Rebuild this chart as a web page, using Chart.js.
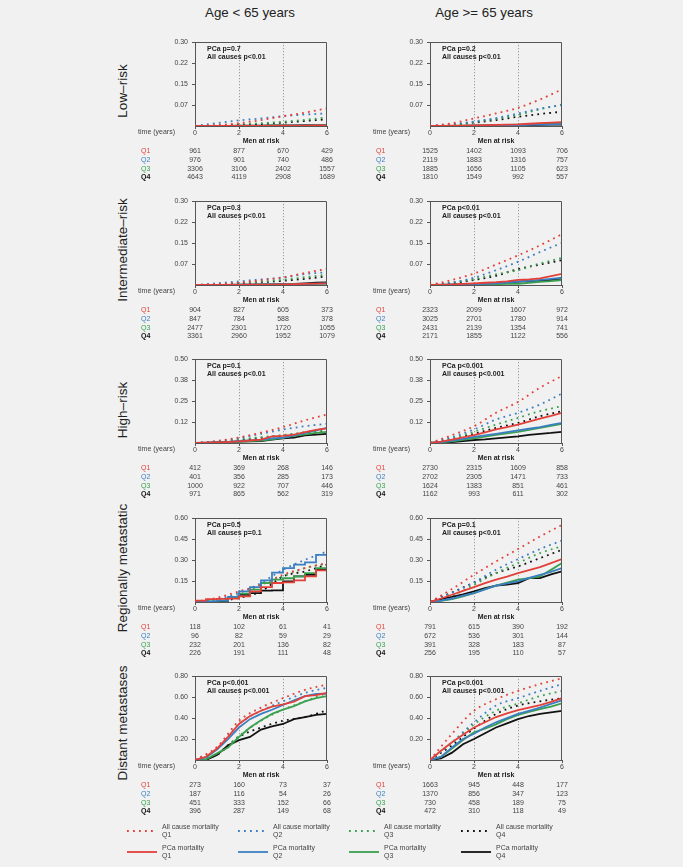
<!DOCTYPE html>
<html>
<head>
<meta charset="utf-8">
<script src="https://cdn.jsdelivr.net/npm/chart.js"></script>
<style>
body { margin: 0; background: #f0f1f0; font-family: "Liberation Sans", Arial, sans-serif; }
#page { position: relative; width: 683px; height: 867px; overflow: hidden; }
canvas { position: absolute; }
.title { position: absolute; top: 5px; font-size: 13.3px; color: #222; transform: translateX(-50%); white-space: nowrap; }
.rowlab { position: absolute; font-size: 13.5px; color: #222; white-space: nowrap; transform: translate(-50%, -50%) rotate(-90deg); }
.leg { position: absolute; font-size: 7px; color: #444; line-height: 8.6px; white-space: nowrap; }
svg { position: absolute; left: 0; top: 0; }
</style>
</head>
<body>
<div id="page"></div>
<script>
// time grids
const tAll = [0, 1, 2, 3, 4, 5, 6];
const tPca = [0, 0.5, 1, 1.5, 2, 2.5, 3, 3.5, 4, 4.5, 5, 5.5, 6];
const riskTimes = [0, 2, 4, 6];

const qNames = ['Q1', 'Q2', 'Q3', 'Q4'];
const qColors = ['#e4403a', '#3b7fc2', '#39a04f', '#111111'];

const colTitles = ['Age < 65 years', 'Age >= 65 years'];
const rowTitles = ['Low\u2013risk', 'Intermediate\u2013risk', 'High\u2013risk', 'Regionally metastatic', 'Distant metastases'];

const yTicks = [[0.075, 0.15, 0.225, 0.30], [0.075, 0.15, 0.225, 0.30], [0.125, 0.25, 0.375, 0.50], [0.15, 0.30, 0.45, 0.60], [0.20, 0.40, 0.60, 0.80]];
const yLabels = [['0.07', '0.15', '0.22', '0.30'], ['0.07', '0.15', '0.22', '0.30'], ['0.12', '0.25', '0.38', '0.50'], ['0.15', '0.30', '0.45', '0.60'], ['0.20', '0.40', '0.60', '0.80']];

// Low-risk, < 65
const lowYoungAll = [
  [0, 0.003, 0.010, 0.021, 0.035, 0.048, 0.063],
  [0, 0.010, 0.020, 0.027, 0.035, 0.041, 0.045],
  [0, 0.002, 0.006, 0.010, 0.015, 0.022, 0.031],
  [0, 0.001, 0.003, 0.007, 0.012, 0.018, 0.024]
];
const lowYoungPca = [
  [0, 0, 0, 0, 0, 0, 0, 0, 0.001, 0.001, 0.001, 0.002, 0.002],
  [0, 0, 0, 0, 0, 0, 0, 0, 0, 0.001, 0.001, 0.001, 0.001],
  [0, 0, 0, 0, 0, 0, 0, 0.001, 0.001, 0.001, 0.001, 0.002, 0.002],
  [0, 0, 0, 0, 0.001, 0.001, 0.001, 0.002, 0.002, 0.002, 0.003, 0.003, 0.003]
];
const lowYoungRisk = [[961, 877, 670, 429], [976, 901, 740, 486], [3306, 3106, 2402, 1557], [4643, 4119, 2908, 1689]];

// Low-risk, >= 65
const lowOldAll = [
  [0, 0.010, 0.027, 0.045, 0.065, 0.095, 0.131],
  [0, 0.006, 0.016, 0.028, 0.045, 0.062, 0.075],
  [0, 0.005, 0.014, 0.026, 0.040, 0.060, 0.077],
  [0, 0.004, 0.012, 0.021, 0.033, 0.043, 0.051]
];
const lowOldPca = [
  [0, 0, 0.001, 0.001, 0.002, 0.003, 0.004, 0.005, 0.006, 0.008, 0.010, 0.012, 0.014],
  [0, 0, 0, 0, 0.001, 0.001, 0.002, 0.002, 0.003, 0.004, 0.005, 0.006, 0.007],
  [0, 0, 0, 0.001, 0.001, 0.002, 0.003, 0.004, 0.005, 0.006, 0.008, 0.010, 0.011],
  [0, 0, 0, 0, 0.001, 0.001, 0.001, 0.002, 0.003, 0.003, 0.004, 0.005, 0.005]
];
const lowOldRisk = [[1525, 1402, 1093, 706], [2119, 1883, 1316, 757], [1885, 1656, 1105, 623], [1810, 1549, 992, 557]];

// Intermediate-risk, < 65
const intYoungAll = [
  [0, 0.003, 0.008, 0.017, 0.027, 0.043, 0.058],
  [0, 0.006, 0.013, 0.020, 0.027, 0.039, 0.046],
  [0, 0.002, 0.007, 0.012, 0.019, 0.028, 0.037],
  [0, 0.002, 0.006, 0.010, 0.015, 0.022, 0.031]
];
const intYoungPca = [
  [0, 0, 0, 0, 0, 0.001, 0.001, 0.001, 0.002, 0.003, 0.004, 0.005, 0.006],
  [0, 0, 0, 0, 0.001, 0.001, 0.001, 0.002, 0.002, 0.003, 0.004, 0.005, 0.006],
  [0, 0, 0, 0, 0, 0, 0.001, 0.001, 0.001, 0.002, 0.003, 0.004, 0.005],
  [0, 0, 0, 0, 0.001, 0.001, 0.002, 0.002, 0.003, 0.004, 0.006, 0.008, 0.009]
];
const intYoungRisk = [[904, 827, 605, 373], [847, 784, 588, 378], [2477, 2301, 1720, 1055], [3361, 2960, 1952, 1079]];

// Intermediate-risk, >= 65
const intOldAll = [
  [0, 0.018, 0.041, 0.073, 0.106, 0.142, 0.182],
  [0, 0.009, 0.026, 0.053, 0.083, 0.118, 0.151],
  [0, 0.008, 0.021, 0.038, 0.053, 0.077, 0.097],
  [0, 0.006, 0.018, 0.033, 0.057, 0.073, 0.089]
];
const intOldPca = [
  [0, 0.001, 0.002, 0.004, 0.006, 0.008, 0.010, 0.013, 0.018, 0.020, 0.024, 0.032, 0.040],
  [0, 0, 0.001, 0.002, 0.003, 0.004, 0.006, 0.009, 0.012, 0.015, 0.018, 0.022, 0.026],
  [0, 0, 0.001, 0.001, 0.002, 0.003, 0.003, 0.004, 0.004, 0.008, 0.011, 0.014, 0.018],
  [0, 0, 0.001, 0.002, 0.003, 0.004, 0.006, 0.008, 0.012, 0.014, 0.016, 0.018, 0.020]
];
const intOldRisk = [[2323, 2099, 1607, 972], [3025, 2701, 1780, 914], [2431, 2139, 1354, 741], [2171, 1855, 1122, 556]];

// High-risk, < 65
const highYoungAll = [
  [0, 0.012, 0.033, 0.062, 0.095, 0.135, 0.170],
  [0, 0.010, 0.030, 0.055, 0.080, 0.100, 0.115],
  [0, 0.006, 0.022, 0.035, 0.047, 0.065, 0.080],
  [0, 0.005, 0.016, 0.030, 0.045, 0.058, 0.067]
];
const highYoungPca = [
  [0, 0.002, 0.004, 0.006, 0.010, 0.015, 0.020, 0.040, 0.042, 0.050, 0.065, 0.078, 0.087],
  [0, 0.002, 0.004, 0.006, 0.012, 0.016, 0.020, 0.028, 0.032, 0.045, 0.060, 0.075, 0.090],
  [0, 0.001, 0.003, 0.005, 0.008, 0.012, 0.015, 0.022, 0.030, 0.042, 0.052, 0.060, 0.067],
  [0, 0.001, 0.003, 0.005, 0.008, 0.010, 0.012, 0.020, 0.028, 0.032, 0.045, 0.050, 0.055]
];
const highYoungRisk = [[412, 369, 268, 146], [401, 356, 285, 173], [1000, 922, 707, 446], [971, 865, 562, 319]];

// High-risk, >= 65
const highOldAll = [
  [0, 0.047, 0.100, 0.180, 0.245, 0.330, 0.400],
  [0, 0.035, 0.081, 0.140, 0.180, 0.230, 0.295],
  [0, 0.028, 0.067, 0.110, 0.150, 0.190, 0.220],
  [0, 0.022, 0.055, 0.090, 0.120, 0.160, 0.190]
];
const highOldPca = [
  [0, 0.008, 0.020, 0.033, 0.047, 0.064, 0.081, 0.095, 0.110, 0.128, 0.146, 0.162, 0.180],
  [0, 0.006, 0.014, 0.024, 0.036, 0.045, 0.055, 0.065, 0.075, 0.085, 0.095, 0.108, 0.120],
  [0, 0.004, 0.010, 0.018, 0.028, 0.038, 0.048, 0.058, 0.067, 0.078, 0.090, 0.102, 0.115],
  [0, 0.003, 0.006, 0.012, 0.018, 0.022, 0.028, 0.034, 0.040, 0.048, 0.055, 0.060, 0.067]
];
const highOldRisk = [[2730, 2315, 1609, 858], [2702, 2305, 1471, 733], [1624, 1383, 851, 461], [1162, 993, 611, 302]];

// Regionally metastatic, < 65
const regYoungAll = [
  [0, 0.030, 0.076, 0.124, 0.195, 0.243, 0.279],
  [0, 0.020, 0.064, 0.136, 0.231, 0.302, 0.362],
  [0, 0.015, 0.045, 0.124, 0.183, 0.243, 0.274],
  [0, 0.005, 0.029, 0.076, 0.183, 0.219, 0.267]
];
const regYoungPca = [
  [0, 0.010, 0.020, 0.022, 0.024, 0.040, 0.076, 0.107, 0.136, 0.140, 0.155, 0.183, 0.226],
  [0, 0.003, 0.005, 0.010, 0.036, 0.076, 0.107, 0.155, 0.210, 0.243, 0.267, 0.283, 0.338],
  [0, 0.002, 0.005, 0.010, 0.029, 0.060, 0.088, 0.136, 0.160, 0.170, 0.183, 0.207, 0.243],
  [0, 0, 0, 0.005, 0.029, 0.052, 0.064, 0.081, 0.083, 0.148, 0.183, 0.195, 0.236]
];
const regYoungRisk = [[118, 102, 61, 41], [96, 82, 59, 29], [232, 201, 136, 82], [226, 191, 111, 48]];

// Regionally metastatic, >= 65
const regOldAll = [
  [0, 0.093, 0.195, 0.290, 0.379, 0.469, 0.552],
  [0, 0.064, 0.140, 0.231, 0.307, 0.379, 0.440],
  [0, 0.045, 0.124, 0.207, 0.279, 0.350, 0.400],
  [0, 0.068, 0.140, 0.207, 0.255, 0.314, 0.374]
];
const regOldPca = [
  [0, 0.025, 0.052, 0.080, 0.107, 0.135, 0.160, 0.182, 0.207, 0.228, 0.250, 0.278, 0.307],
  [0, 0.010, 0.025, 0.045, 0.064, 0.090, 0.117, 0.133, 0.148, 0.172, 0.195, 0.215, 0.243],
  [0, 0.008, 0.020, 0.040, 0.064, 0.092, 0.117, 0.138, 0.160, 0.170, 0.183, 0.230, 0.279],
  [0, 0.020, 0.036, 0.055, 0.076, 0.100, 0.117, 0.124, 0.136, 0.171, 0.171, 0.198, 0.219]
];
const regOldRisk = [[791, 615, 390, 192], [672, 536, 301, 144], [391, 328, 183, 87], [256, 195, 110, 57]];

// Distant metastases, < 65
const distYoungAll = [
  [0, 0.125, 0.375, 0.500, 0.590, 0.670, 0.720],
  [0, 0.110, 0.344, 0.470, 0.560, 0.640, 0.690],
  [0, 0.060, 0.230, 0.375, 0.480, 0.560, 0.640],
  [0, 0.050, 0.220, 0.310, 0.375, 0.410, 0.475]
];
const distYoungPca = [
  [0, 0.031, 0.109, 0.220, 0.344, 0.420, 0.470, 0.510, 0.530, 0.556, 0.610, 0.620, 0.640],
  [0, 0.025, 0.100, 0.200, 0.310, 0.390, 0.440, 0.480, 0.525, 0.570, 0.610, 0.630, 0.634],
  [0, 0.006, 0.063, 0.120, 0.220, 0.310, 0.380, 0.440, 0.480, 0.515, 0.560, 0.590, 0.610],
  [0, 0, 0.047, 0.140, 0.190, 0.220, 0.290, 0.320, 0.344, 0.390, 0.410, 0.430, 0.440]
];
const distYoungRisk = [[273, 160, 73, 37], [187, 116, 54, 26], [451, 333, 152, 66], [396, 287, 149, 68]];

// Distant metastases, >= 65
const distOldAll = [
  [0, 0.250, 0.470, 0.580, 0.660, 0.725, 0.780],
  [0, 0.170, 0.360, 0.520, 0.590, 0.660, 0.725],
  [0, 0.160, 0.340, 0.470, 0.540, 0.610, 0.660],
  [0, 0.140, 0.300, 0.440, 0.520, 0.560, 0.590]
];
const distOldPca = [
  [0, 0.088, 0.170, 0.240, 0.310, 0.360, 0.410, 0.445, 0.475, 0.500, 0.525, 0.555, 0.590],
  [0, 0.030, 0.120, 0.200, 0.250, 0.310, 0.360, 0.400, 0.440, 0.470, 0.500, 0.535, 0.570],
  [0, 0.030, 0.110, 0.190, 0.265, 0.300, 0.340, 0.390, 0.430, 0.460, 0.485, 0.510, 0.540],
  [0, 0.015, 0.070, 0.150, 0.200, 0.255, 0.310, 0.350, 0.390, 0.420, 0.440, 0.455, 0.470]
];
const distOldRisk = [[1663, 945, 448, 177], [1370, 856, 347, 123], [730, 458, 189, 75], [472, 310, 118, 49]];

const pvals = [
  [['PCa p=0.7', 'All causes p<0.01'], ['PCa p=0.2', 'All causes p<0.01']],
  [['PCa p=0.3', 'All causes p<0.01'], ['PCa p<0.01', 'All causes p<0.01']],
  [['PCa p=0.1', 'All causes p<0.01'], ['PCa p<0.001', 'All causes p<0.001']],
  [['PCa p=0.5', 'All causes p=0.1'], ['PCa p=0.1', 'All causes p<0.01']],
  [['PCa p<0.001', 'All causes p<0.001'], ['PCa p<0.001', 'All causes p<0.001']]
];

const panels = [
  [[lowYoungAll, lowYoungPca, lowYoungRisk], [lowOldAll, lowOldPca, lowOldRisk]],
  [[intYoungAll, intYoungPca, intYoungRisk], [intOldAll, intOldPca, intOldRisk]],
  [[highYoungAll, highYoungPca, highYoungRisk], [highOldAll, highOldPca, highOldRisk]],
  [[regYoungAll, regYoungPca, regYoungRisk], [regOldAll, regOldPca, regOldRisk]],
  [[distYoungAll, distYoungPca, distYoungRisk], [distOldAll, distOldPca, distOldRisk]]
];

// layout
const plotTops = [42, 201, 359, 518, 676];
const plotLefts = [195, 430];
const plotW = 132, plotH = 84;
const padTop = 8, tableH = 56, yAxisW = 60, padRight = 13;
const FONT = '"Liberation Sans", Arial, sans-serif';

Chart.defaults.font.family = FONT;
const page = document.getElementById('page');

function pts(ts, ys) {
  return ys.map(function(y, i) { return { x: ts[i], y: y }; });
}

function deco(risk, pv) {
  return {
    id: 'deco',
    afterDraw(chart) {
      const ctx = chart.ctx, a = chart.chartArea, x = chart.scales.x;
      ctx.save();
      // top and right of the box
      ctx.strokeStyle = '#555';
      ctx.lineWidth = 1;
      ctx.beginPath();
      ctx.moveTo(Math.round(a.left) + 0.5, Math.round(a.top) + 0.5);
      ctx.lineTo(Math.round(a.right) - 0.5, Math.round(a.top) + 0.5);
      ctx.lineTo(Math.round(a.right) - 0.5, Math.round(a.bottom));
      ctx.stroke();

      ctx.textBaseline = 'middle';
      ctx.font = 'bold 7px ' + FONT;
      ctx.fillStyle = '#222';
      ctx.textAlign = 'left';
      ctx.fillText(pv[0], a.left + 12, a.top + 7);
      ctx.fillText(pv[1], a.left + 12, a.top + 15);

      ctx.font = '7px ' + FONT;
      ctx.fillStyle = '#444';
      ctx.textAlign = 'right';
      ctx.fillText('time (years)', a.left - 20, a.bottom + 6.5);

      ctx.font = 'bold 7px ' + FONT;
      ctx.fillStyle = '#222';
      ctx.textAlign = 'center';
      ctx.fillText('Men at risk', (a.left + a.right) / 2, a.bottom + 15);

      for (let q = 0; q < 4; q++) {
        const yy = a.bottom + 25.5 + q * 8.6;
        ctx.font = (q === 3 ? 'bold ' : '') + '7px ' + FONT;
        ctx.textAlign = 'left';
        ctx.fillStyle = qColors[q];
        ctx.fillText(qNames[q], a.left - 54, yy);
        ctx.font = '7px ' + FONT;
        ctx.textAlign = 'center';
        ctx.fillStyle = '#444';
        for (let j = 0; j < riskTimes.length; j++) {
          ctx.fillText(String(risk[q][j]), x.getPixelForValue(riskTimes[j]), yy);
        }
      }
      ctx.restore();
    }
  };
}

function makePanel(r, c) {
  const all = panels[r][c][0], pca = panels[r][c][1], risk = panels[r][c][2];
  const cv = document.createElement('canvas');
  const w = yAxisW + plotW + padRight, h = padTop + plotH + tableH;
  cv.width = w; cv.height = h;
  cv.style.left = (plotLefts[c] - yAxisW) + 'px';
  cv.style.top = (plotTops[r] - padTop) + 'px';
  page.appendChild(cv);

  const datasets = [];
  for (let q = 0; q < 4; q++) {
    datasets.push({
      data: pts(tAll, all[q]),
      borderColor: qColors[q],
      borderWidth: 1.8,
      borderDash: [1.8, 4.2],
      borderCapStyle: 'butt',
      cubicInterpolationMode: 'monotone',
      pointRadius: 0,
      order: 1
    });
  }
  for (let q = 0; q < 4; q++) {
    datasets.push({
      data: pts(tPca, pca[q]),
      borderColor: qColors[q],
      borderWidth: 1.8,
      stepped: (r === 3 && c === 0) ? 'after' : false,
      pointRadius: 0,
      order: 0
    });
  }

  new Chart(cv, {
    type: 'line',
    data: { datasets: datasets },
    options: {
      responsive: false,
      animation: false,
      devicePixelRatio: 1,
      layout: { padding: { top: padTop, right: padRight, left: 0, bottom: 0 } },
      plugins: { legend: { display: false }, tooltip: { enabled: false } },
      scales: {
        x: {
          type: 'linear', min: 0, max: 6,
          afterFit: function(s) { s.height = tableH; },
          ticks: { stepSize: 2, font: { size: 7 }, color: '#444', padding: 0, maxRotation: 0 },
          grid: {
            drawOnChartArea: true,
            color: function(ctx) { return (ctx.tick && (ctx.tick.value === 2 || ctx.tick.value === 4)) ? '#888' : 'rgba(0,0,0,0)'; },
            lineWidth: 1,
            tickLength: 3,
            tickColor: '#555'
          },
          border: { display: true, color: '#555', width: 1, dash: [1, 2] }
        },
        y: {
          min: 0, max: yTicks[r][3],
          afterFit: function(s) { s.width = yAxisW; },
          afterBuildTicks: function(s) { s.ticks = yTicks[r].map(function(v) { return { value: v }; }); },
          ticks: {
            font: { size: 7 }, color: '#444', padding: 4,
            callback: function(v, i) { return yLabels[r][i]; }
          },
          grid: { drawOnChartArea: false, tickLength: 3, tickColor: '#555' },
          border: { display: true, color: '#555', width: 1 }
        }
      }
    },
    plugins: [deco(risk, pvals[r][c])]
  });
}

for (let r = 0; r < 5; r++) {
  for (let c = 0; c < 2; c++) makePanel(r, c);
}

// column titles and row titles
const titleX = [250, 484];
colTitles.forEach(function(t, i) {
  const d = document.createElement('div');
  d.className = 'title';
  d.style.left = titleX[i] + 'px';
  d.textContent = t;
  page.appendChild(d);
});
const rowLabelY = [91, 250, 410, 568, 723];
rowTitles.forEach(function(t, i) {
  const d = document.createElement('div');
  d.className = 'rowlab';
  d.style.left = '122px';
  d.style.top = rowLabelY[i] + 'px';
  d.textContent = t;
  page.appendChild(d);
});

// legend
const legX = [127, 238, 349, 461];
const legRowsY = [831, 852];
const legText = ['All cause mortality', 'PCa mortality'];
let svg = '<svg width="683" height="867">';
for (let i = 0; i < 4; i++) {
  svg += '<line x1="' + legX[i] + '" y1="' + legRowsY[0] + '" x2="' + (legX[i] + 30) + '" y2="' + legRowsY[0] +
    '" stroke="' + qColors[i] + '" stroke-width="1.8" stroke-dasharray="1.8 4.2"/>';
  svg += '<line x1="' + legX[i] + '" y1="' + legRowsY[1] + '" x2="' + (legX[i] + 30) + '" y2="' + legRowsY[1] +
    '" stroke="' + qColors[i] + '" stroke-width="1.8"/>';
}
svg += '</svg>';
page.insertAdjacentHTML('beforeend', svg);
for (let i = 0; i < 4; i++) {
  for (let k = 0; k < 2; k++) {
    const d = document.createElement('div');
    d.className = 'leg';
    d.style.left = (legX[i] + 35) + 'px';
    d.style.top = (legRowsY[k] - 8.5) + 'px';
    d.innerHTML = legText[k] + '<br>' + qNames[i];
    page.appendChild(d);
  }
}
</script>
</body>
</html>
